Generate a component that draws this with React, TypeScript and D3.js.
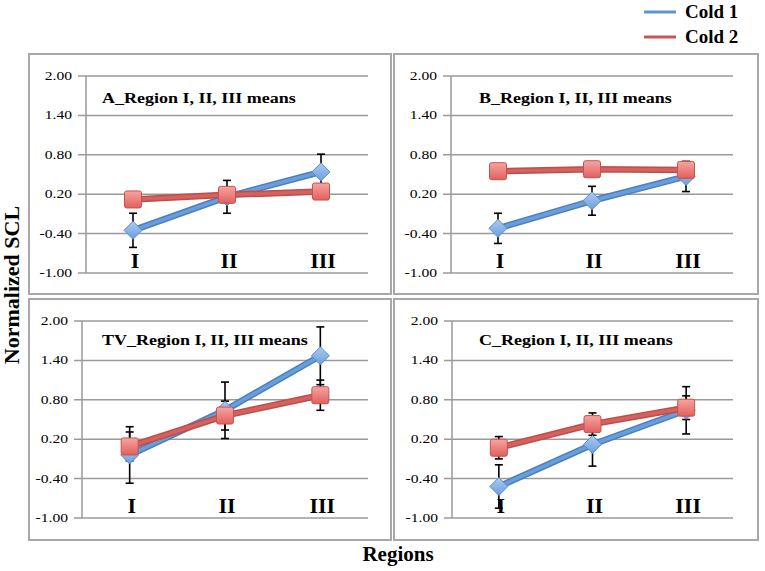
import React, { useEffect, useRef } from 'react';
import * as d3 from 'd3';

// data
const categories = ['I', 'II', 'III'];
const seriesNames = ['Cold 1', 'Cold 2'];
const panelTitles = [
  'A_Region I, II, III means',
  'B_Region I, II, III means',
  'TV_Region I, II, III means',
  'C_Region I, II, III means',
];
const cold1Means = [
  [-0.35, 0.16, 0.54],
  [-0.32, 0.1, 0.47],
  [-0.04, 0.64, 1.47],
  [-0.52, 0.12, 0.64],
];
const cold1Errors = [
  [0.26, 0.25, 0.27],
  [0.23, 0.22, 0.23],
  [0.43, 0.43, 0.44],
  [0.33, 0.33, 0.36],
];
const cold2Means = [
  [0.12, 0.19, 0.24],
  [0.55, 0.58, 0.57],
  [0.09, 0.56, 0.87],
  [0.07, 0.43, 0.68],
];
const cold2Errors = [
  [0.08, 0.08, 0.08],
  [0.08, 0.08, 0.08],
  [0.22, 0.22, 0.23],
  [0.17, 0.17, 0.18],
];
const yTicks = [-1.0, -0.4, 0.2, 0.8, 1.4, 2.0];

// layout of the four boxes
const panels = [
  { x0: 29, y0: 54, x1: 391, y1: 294, left: 86, right: 368, top: 76, bottom: 273, titleX: 102, titleY: 103 },
  { x0: 394, y0: 54, x1: 758, y1: 294, left: 451, right: 733, top: 76, bottom: 273, titleX: 479, titleY: 103 },
  { x0: 29, y0: 299, x1: 391, y1: 540, left: 82, right: 368, top: 321, bottom: 518, titleX: 102, titleY: 345 },
  { x0: 394, y0: 299, x1: 758, y1: 540, left: 452, right: 733, top: 321, bottom: 518, titleX: 479, titleY: 345 },
];

const BLUE = '#4a80c2';
const RED = '#c04d4a';
const SERIF = '"Liberation Serif", "Times New Roman", serif';

export default function App() {
  const svgRef = useRef<SVGSVGElement>(null);

  useEffect(() => {
    if (!svgRef.current) return;
    const svg = d3.select(svgRef.current);
    svg.selectAll('*').remove();

    const defs = svg.append('defs');
    const blueGrad = defs.append('linearGradient').attr('id', 'blue-grad')
      .attr('x1', '0%').attr('y1', '0%').attr('x2', '0%').attr('y2', '100%');
    blueGrad.append('stop').attr('offset', '0%').attr('stop-color', '#acccf2');
    blueGrad.append('stop').attr('offset', '100%').attr('stop-color', '#6a9edc');
    const redGrad = defs.append('linearGradient').attr('id', 'red-grad')
      .attr('x1', '0%').attr('y1', '0%').attr('x2', '0%').attr('y2', '100%');
    redGrad.append('stop').attr('offset', '0%').attr('stop-color', '#f7a4a2');
    redGrad.append('stop').attr('offset', '100%').attr('stop-color', '#e0605d');

    // legend
    const legend = svg.append('g');
    seriesNames.forEach((name, i) => {
      const y = 12 + i * 25;
      legend.append('line')
        .attr('x1', 644).attr('x2', 676).attr('y1', y).attr('y2', y)
        .attr('stroke', i === 0 ? '#5b93d6' : '#cc5552').attr('stroke-width', 3);
      legend.append('text')
        .attr('x', 685).attr('y', y + 6)
        .style('font-family', SERIF).style('font-weight', 'bold').style('font-size', '19px')
        .text(name);
    });

    // axis titles
    svg.append('text')
      .attr('transform', 'translate(19,285) rotate(-90)')
      .attr('text-anchor', 'middle')
      .style('font-family', SERIF).style('font-weight', 'bold').style('font-size', '22px')
      .text('Normalized SCL');
    svg.append('text')
      .attr('x', 398).attr('y', 561)
      .attr('text-anchor', 'middle')
      .style('font-family', SERIF).style('font-weight', 'bold').style('font-size', '21px')
      .text('Regions');

    panels.forEach((p, pi) => {
      const g = svg.append('g');

      g.append('rect')
        .attr('x', p.x0).attr('y', p.y0)
        .attr('width', p.x1 - p.x0).attr('height', p.y1 - p.y0)
        .attr('fill', 'white').attr('stroke', '#a8a8a8').attr('stroke-width', 2);

      const x = d3.scalePoint<string>().domain(categories).range([p.left, p.right]).padding(0.5);
      const y = d3.scaleLinear().domain([-1, 2]).range([p.bottom, p.top]);

      // gridlines + ticks
      g.selectAll('.grid')
        .data(yTicks)
        .join('line')
        .attr('x1', p.left - 8).attr('x2', p.right)
        .attr('y1', d => y(d)).attr('y2', d => y(d))
        .attr('stroke', '#9a9a9a').attr('stroke-width', 1.5);
      g.append('line')
        .attr('x1', p.left).attr('x2', p.left)
        .attr('y1', p.top).attr('y2', p.bottom)
        .attr('stroke', '#9a9a9a').attr('stroke-width', 1.5);

      g.selectAll('.tick-label')
        .data(yTicks)
        .join('text')
        .attr('transform', d => `translate(${p.left - 14},${y(d) + 4}) scale(1.3,1)`)
        .attr('text-anchor', 'end')
        .style('font-family', SERIF).style('font-size', '12px')
        .text(d => d.toFixed(2));

      // category labels inside the plot
      g.selectAll('.cat')
        .data(categories)
        .join('text')
        .attr('x', d => (x(d) ?? 0) + 2)
        .attr('y', p.bottom - 5)
        .attr('text-anchor', 'middle')
        .style('font-family', SERIF).style('font-weight', 'bold').style('font-size', '22px')
        .text(d => d);

      g.append('text')
        .attr('transform', `translate(${p.titleX},${p.titleY}) scale(1.2,1)`)
        .style('font-family', SERIF).style('font-weight', 'bold').style('font-size', '15px')
        .text(panelTitles[pi]);

      const series = [
        { means: cold1Means[pi], errs: cold1Errors[pi], color: BLUE, light: '#6a9edb', kind: 'diamond' },
        { means: cold2Means[pi], errs: cold2Errors[pi], color: RED, light: '#d4625f', kind: 'square' },
      ];

      // error bars
      series.forEach(s => {
        const pts = categories.map((c, i) => ({ c, m: s.means[i], e: s.errs[i] }));
        const eb = g.append('g').attr('stroke', 'black').attr('stroke-width', 1.6);
        eb.selectAll('.v').data(pts).join('line')
          .attr('x1', d => x(d.c) ?? 0).attr('x2', d => x(d.c) ?? 0)
          .attr('y1', d => y(d.m - d.e)).attr('y2', d => y(d.m + d.e));
        [1, -1].forEach(sign => {
          eb.selectAll(`.cap${sign}`).data(pts).join('line')
            .attr('x1', d => (x(d.c) ?? 0) - 4).attr('x2', d => (x(d.c) ?? 0) + 4)
            .attr('y1', d => y(d.m + sign * d.e)).attr('y2', d => y(d.m + sign * d.e));
        });
      });

      // lines and markers
      series.forEach(s => {
        const line = d3.line<number>()
          .x((_, i) => x(categories[i]) ?? 0)
          .y(d => y(d));
        g.append('path').attr('d', line(s.means)).attr('fill', 'none')
          .attr('stroke', s.color).attr('stroke-width', 6.5).attr('stroke-linejoin', 'round');
        g.append('path').attr('d', line(s.means)).attr('fill', 'none')
          .attr('stroke', s.light).attr('stroke-width', 3.5).attr('stroke-linejoin', 'round');

        const mk = g.selectAll(`.mk-${s.kind}`)
          .data(s.means)
          .join('g')
          .attr('transform', (d, i) => `translate(${x(categories[i])},${y(d)})`);
        if (s.kind === 'diamond') {
          mk.append('path')
            .attr('d', 'M0,-9L9,0L0,9L-9,0Z')
            .attr('fill', 'url(#blue-grad)').attr('stroke', '#5a8ccc').attr('stroke-width', 1);
        } else {
          mk.append('rect')
            .attr('x', -8.5).attr('y', -8.5).attr('width', 17).attr('height', 17).attr('rx', 2)
            .attr('fill', 'url(#red-grad)').attr('stroke', '#c4524f').attr('stroke-width', 1);
        }
      });
    });
  }, []);

  return (
    <svg
      ref={svgRef}
      width={765}
      height={571}
      style={{ position: 'absolute', left: 0, top: 0, background: 'white' }}
    />
  );
}
